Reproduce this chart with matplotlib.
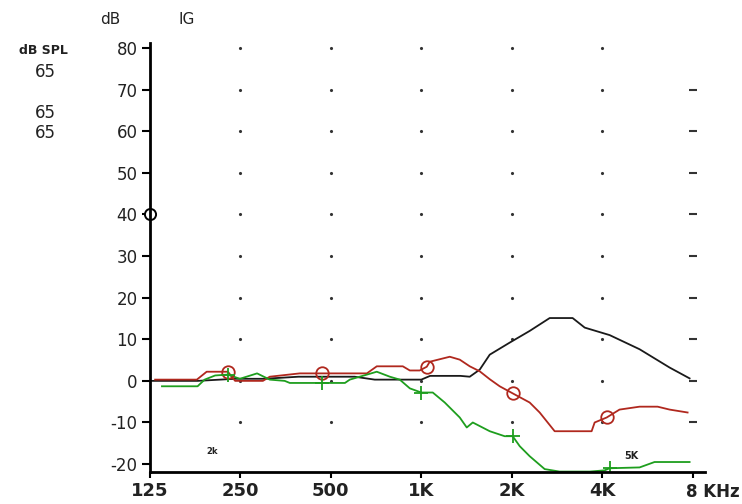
import matplotlib
matplotlib.use("Agg")
import matplotlib.pyplot as plt
import matplotlib.transforms as mtransforms

plt.rcParams['axes.unicode_minus'] = False

# frequencies (Hz) and gain (dB)
black_f = [125, 180, 240, 300, 390, 600, 700, 850, 1000, 1070, 1350, 1450, 1565, 1690,
           1970, 2295, 2676, 3190, 3500, 4237, 5330, 6710, 7820]
black_g = [0, 0, 0.5, 0.5, 1, 1, 0.3, 0.3, 0.3, 1.2, 1.2, 1.0, 2.7, 6.3,
           9.2, 12, 15.1, 15.1, 12.8, 11, 7.6, 3.2, 0.6]

red_f = [130, 179, 193, 206, 227, 240, 297, 313, 394, 467, 557, 659, 711, 745, 868, 916,
         988, 1043, 1067, 1244, 1343, 1450, 1565, 1690, 1824, 2015, 2295, 2478, 2780,
         3690, 3777, 4142, 4570, 5330, 6119, 6710, 7700]
red_g = [0.3, 0.3, 2.2, 2.2, 2.2, 0, 0, 1, 1.8, 1.8, 1.8, 1.8, 3.5, 3.5, 3.5, 2.5,
         2.5, 3.4, 4.6, 5.8, 5.1, 3.5, 2.3, 0.4, -1.3, -3.0, -5.2, -7.6, -12.1,
         -12.1, -10, -8.8, -6.9, -6.2, -6.2, -6.9, -7.6]
red_mark_f = [227, 467, 1043, 2015, 4142]
red_mark_g = [2.2, 1.8, 3.4, -3.0, -8.8]

green_f = [137, 180, 190, 206, 227, 249, 284, 313, 351, 365, 557, 578, 711, 786, 848,
           916, 1000, 1092, 1197, 1343, 1417, 1484, 1690, 1895, 2015, 2127, 2295, 2575,
           2888, 3635, 4079, 4237, 5330, 5977, 7820]
green_g = [-1.3, -1.3, 0.3, 1.3, 1.5, 0.5, 1.8, 0.3, 0, -0.5, -0.5, 0.3, 2.2, 1.0, 0.3,
           -1.8, -2.8, -2.8, -5.2, -8.8, -11.2, -10, -12.1, -13.3, -13.3, -15.7, -18.1,
           -21.2, -21.8, -21.8, -21.5, -21, -20.8, -19.5, -19.5]
green_mark_f = [227, 467, 1000, 2015, 4237]
green_mark_g = [1.5, -0.5, -2.8, -13.3, -21]

octaves = [250, 500, 1000, 2000, 4000, 8000]
octave_labels = ['250', '500', '1K', '2K', '4K', '']
levels = [80, 70, 60, 50, 40, 30, 20, 10, 0, -10, -20]

W, H = 742, 504
fig = plt.figure(figsize=(W / 100, H / 100), dpi=100)
ax = fig.add_axes([150 / W, 1 - 472 / H, (705 - 150) / W, (472 - 43) / H])
ax.set_xscale('log')
ax.set_xlim(125, 8800)
ax.set_ylim(-21.9, 81.2)

# dotted grid
for f in octaves:
    for lv in levels[:-1]:
        if f == 8000:
            if lv == 80:
                continue
            ax.plot(f, lv, marker='_', ms=6, mew=1.5, color='#333333')
        else:
            ax.plot(f, lv, marker='.', ms=2.5, color='#333333')

ax.plot(black_f, black_g, color='#1a1a1a', lw=1.3)
ax.plot(red_f, red_g, color='#b0281e', lw=1.3)
ax.plot(green_f, green_g, color='#1e9e1e', lw=1.3)
ax.plot(red_mark_f, red_mark_g, ls='none', marker='o', ms=9, mfc='none',
        mec='#b0281e', mew=1.3)
ax.plot(green_mark_f, green_mark_g, ls='none', marker='+', ms=10,
        color='#1e9e1e', mew=1.3)

# 40 dB marker on the axis
ax.plot(125, 40, marker='o', ms=8, mfc='white', mec='black', mew=1.4, clip_on=False)

for s in ['top', 'right']:
    ax.spines[s].set_visible(False)
ax.spines['left'].set_linewidth(2)
ax.spines['bottom'].set_linewidth(2)

ax.set_yticks(levels)
ax.set_yticklabels([str(v) for v in levels], fontsize=12, color='#222222')
ax.tick_params(axis='y', direction='out', length=6, width=1.5, pad=3)
ax.set_xticks([125] + octaves)
ax.set_xticklabels(['125'] + octave_labels, fontsize=13, fontweight='bold', color='#222222')
ax.xaxis.set_minor_locator(matplotlib.ticker.NullLocator())
ax.tick_params(axis='x', direction='out', length=4, width=1.5, pad=3)

trans = mtransforms.blended_transform_factory(ax.transData, ax.transAxes)
ax.text(7600, -0.025, '8 KHz', transform=trans, ha='left', va='top', fontsize=12,
        fontweight='bold', color='#222222')

def px(x, y, s, size, **kw):
    fig.text(x / W, 1 - y / H, s, fontsize=size, ha='center', va='center', color='#222222', **kw)

px(110, 20, 'dB', 11)
px(187, 20, 'IG', 11)
px(43, 50, 'dB SPL', 9, fontweight='bold')
px(45, 72, '65', 12)
px(45, 113, '65', 12)
px(45, 133, '65', 12)
px(212, 452, '2k', 6, fontweight='bold')
px(631, 456, '5K', 7, fontweight='bold')

fig.savefig('out.png', dpi=100)
